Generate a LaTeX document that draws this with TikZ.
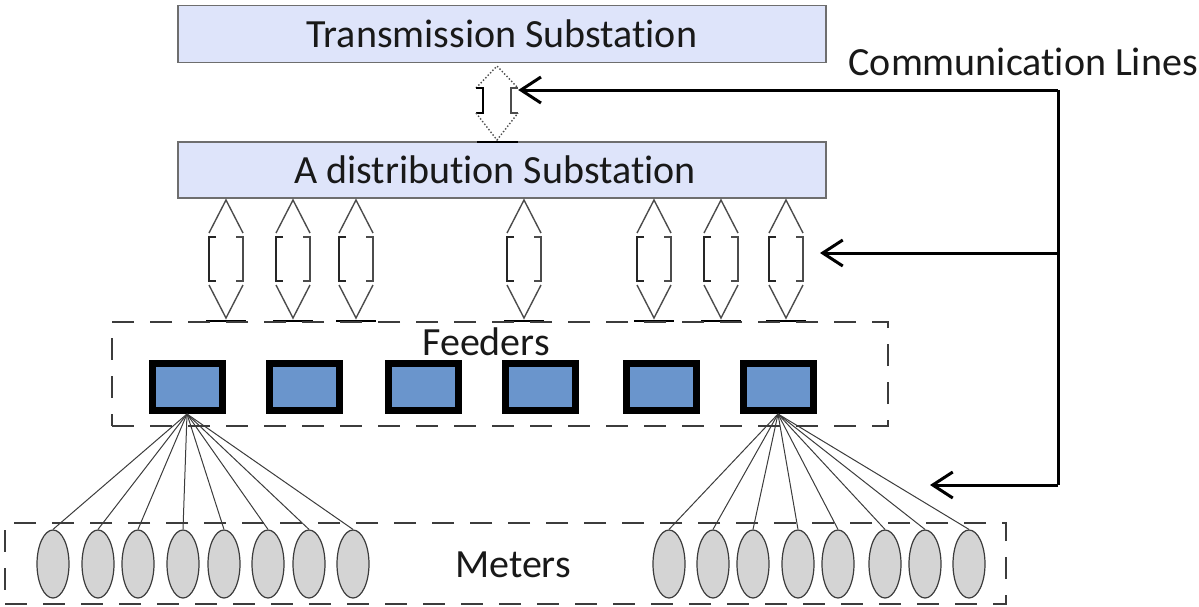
\documentclass[tikz,border=0pt]{standalone}
\usepackage{fontspec}
\setmainfont{Carlito}[Ligatures={NoCommon}]
\usetikzlibrary{arrows.meta,shapes.geometric}
\definecolor{substfill}{RGB}{222,228,250}
\definecolor{substdraw}{RGB}{110,110,110}
\definecolor{feedfill}{RGB}{106,149,204}
\definecolor{meterfill}{RGB}{212,212,212}
\definecolor{inkgray}{RGB}{60,60,60}
\definecolor{txt}{RGB}{25,25,25}
\tikzset{
  substbox/.style={draw=substdraw, fill=substfill, line width=1.4pt,
    minimum width=648pt, minimum height=57pt, inner sep=0pt},
  label text/.style={text=txt, font=\fontsize{40}{45}\selectfont, inner sep=0pt},
  feeder/.style={draw=black, fill=feedfill, line width=7pt,
    minimum width=70pt, minimum height=47pt, inner sep=0pt},
  meter/.style={ellipse, draw=inkgray, fill=meterfill, line width=1.2pt,
    minimum width=32pt, minimum height=68pt, inner sep=0pt},
  groupbox/.style={draw=inkgray, line width=1.3pt, dash pattern=on 22pt off 16pt, inner sep=0pt},
  fanline/.style={draw=inkgray, line width=1pt},
  arrowline/.style={draw=gray!60!black, line width=1.4pt},
  bracketline/.style={draw=black!85, line width=1.6pt},
  commline/.style={draw=black, line width=3pt},
  commtip/.style={-{Straight Barb[length=20pt,width=26pt,line width=3pt]}},
  dblarrow/.pic={
    \draw[arrowline] (-17,33) -- (0,0) -- (17,33);
    \draw[bracketline] (-10,37) -- (-17,37) -- (-17,81) -- (-10,81);
    \draw[arrowline] (10,37) -- (17,37) -- (17,81) -- (10,81);
    \draw[arrowline] (-17,85) -- (0,118) -- (17,85);
    \draw[draw=black, line width=1.4pt] (-20,121) -- (20,121);
  },
  smallarrow/.pic={
    \draw[arrowline, dotted] (-21,22) -- (0,0) -- (21,22);
    \draw[draw=black, line width=1.8pt] (-21,22) -- (-14,22) -- (-14,47) -- (-21,47);
    \draw[arrowline] (21,22) -- (14,22) -- (14,47) -- (21,47);
    \draw[arrowline, dotted] (-21,47) -- (0,74) -- (21,47);
  }
}
\begin{document}
\begin{tikzpicture}[x=1pt, y=-1pt]
  \useasboundingbox (0,0) rectangle (1199,606);

  % substations
  \node[substbox] (trans) at (502,34) {};
  \node[label text] (transtext) at (502,34) {Transmission Substation};
  \node[substbox, minimum height=56pt] (dist) at (502,170) {};
  \node[label text] (disttext) at (495,170) {A distribution Substation};

  % link between the two substations
  \node[minimum width=42pt, minimum height=74pt, inner sep=0pt] (link) at (497,103) {};
  \pic at (497,66) {smallarrow};
  \draw[draw=black, line width=2.5pt] (477,142) -- (518,142);

  % links from the distribution substation down to the feeders
  \foreach \x/\n in {226/1,293/2,356/3,524/4,654/5,721/6,786/7} {
    \node[minimum width=34pt, minimum height=118pt, inner sep=0pt] (arr\n) at (\x,259) {};
    \pic at (\x,200) {dblarrow};
  }

  % feeders
  \node[groupbox, minimum width=776pt, minimum height=104pt] (feedgroup) at (500,374) {};
  \node[label text] (feedtext) at (486,342) {Feeders};
  \foreach \x/\n in {187/1,304/2,423/3,540/4,661/5,778/6}
    \node[feeder] (f\n) at (\x,387) {};

  % meters
  \node[groupbox, minimum width=1001pt, minimum height=81pt] (metergroup) at (505.5,563.5) {};
  \node[label text] (metertext) at (513,565) {Meters};
  \foreach \x/\n in {53/1,98/2,138/3,183/4,224/5,268/6,309/7,353/8}
    \node[meter] (ml\n) at (\x,564) {};
  \foreach \x/\n in {669/1,713/2,753/3,798/4,838/5,885/6,925/7,969/8}
    \node[meter] (mr\n) at (\x,564) {};

  % fan-out from the end feeders to their meters
  \foreach \n in {1,...,8} {
    \draw[fanline] (f1.south) -- (ml\n.north);
    \draw[fanline] (f6.south) -- (mr\n.north);
  }

  % communication lines
  \node[label text, anchor=east] (commtext) at (1198,62) {Communication Lines};
  \coordinate (bustop) at (1058,90);
  \coordinate (busmid) at (1058,253);
  \coordinate (busbot) at (1058,485);
  \coordinate (midend) at (820,253);
  \coordinate (botend) at (930,485);
  \draw[commline] (bustop) -- (busbot);
  \draw[commline, commtip] (bustop) -- (link.east |- bustop);
  \draw[commline, commtip] (busmid) -- (midend);
  \draw[commline, commtip] (busbot) -- (botend);
\end{tikzpicture}
\end{document}
